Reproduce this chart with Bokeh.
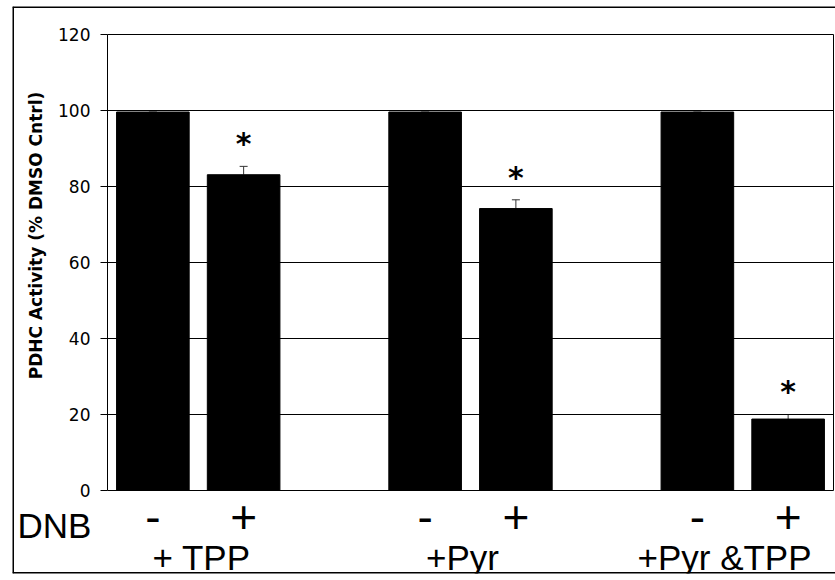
from bokeh.plotting import figure
from bokeh.models import (ColumnDataSource, Whisker, TeeHead, FixedTicker, Label,
                          LinearAxis, Range1d)
from bokeh.core.properties import value
from bokeh.embed import file_html
from bokeh.resources import INLINE

# ---- data ----
groups = ["+ TPP", "+Pyr", "+Pyr &TPP"]
dnb_states = ["-", "+"]
activity = [99.6, 83.1, 99.6, 74.2, 99.6, 18.8]
sem = [0.0, 2.2, 0.0, 2.3, 0.0, 1.2]
significant = [False, True, False, True, False, True]
y_ticks = [0, 20, 40, 60, 80, 100, 120]
row_label = "DNB"
y_title = "PDHC Activity (% DMSO Cntrl)"

# ---- layout (pixels on the page) ----
W, H = 835, 580
BOX_L, BOX_T, BOX_R, BOX_B = 12, 6, 835, 573      # outer frame box
X0_PX, SLOT_PX = 107, 90.75                        # x=0 position, width of one slot
Y0_PX, UNIT_PX = 490, 3.8                          # y=0 position, px per % unit

def px_x(px):
    return (px - X0_PX) / SLOT_PX

def px_y(py):
    return (Y0_PX - py) / UNIT_PX

n_slots = len(groups) * 3 - 1
xs, state_labels = [], []
for gi, g in enumerate(groups):
    for si, s in enumerate(dnb_states):
        xs.append(gi * 3 + si + 0.5)
        state_labels.append(s)

upper = [a + e for a, e in zip(activity, sem)]
src = ColumnDataSource(dict(x=xs, top=activity, upper=upper))

star_x = [x for x, s in zip(xs, significant) if s]
star_y = [u + 6 for u, s in zip(upper, significant) if s]
star_src = ColumnDataSource(dict(x=star_x, y=star_y, t=["*"] * len(star_x)))

xr = Range1d(px_x(BOX_L), px_x(BOX_R))
yr = Range1d(px_y(BOX_B), px_y(BOX_T))
p = figure(width=W, height=H, x_range=xr, y_range=yr,
           x_axis_location=None, y_axis_location=None,
           output_backend="svg", toolbar_location=None,
           min_border_left=BOX_L, min_border_right=W - BOX_R,
           min_border_top=BOX_T, min_border_bottom=H - BOX_B)
p.background_fill_color = "white"
p.border_fill_color = "white"
p.outline_line_color = None
p.grid.visible = False

# outer box: left, top and bottom edges (right edge lies outside the window)
p.segment(x0=[xr.start, xr.start, xr.start], x1=[xr.start, xr.end, xr.end],
          y0=[yr.start, yr.end, yr.start], y1=[yr.end, yr.end, yr.start],
          line_color="black", line_width=3)

# gridlines (plot area only)
grid_y = y_ticks[1:]
p.segment(x0=[0] * len(grid_y), x1=[n_slots] * len(grid_y), y0=grid_y, y1=grid_y,
          line_color="black", line_width=1)
# right edge of plot area
p.segment(x0=[n_slots], x1=[n_slots], y0=[y_ticks[0]], y1=[y_ticks[-1]],
          line_color="black", line_width=1)

p.vbar(x="x", top="top", width=0.8, source=src, fill_color="black", line_color="black")

wh = Whisker(base="x", upper="upper", lower="top", source=src,
             upper_head=TeeHead(size=8, line_color="#333333", line_width=1),
             lower_head=None, line_color="#333333", line_width=1)
p.add_layout(wh)

p.text(x="x", y="y", text="t", source=star_src, text_font=value("DejaVu Sans"),
       text_font_style="bold", text_font_size="30px", text_align="center",
       text_baseline="middle", text_color="black")

# y axis
yax = LinearAxis(fixed_location=0, bounds=(y_ticks[0], y_ticks[-1]),
                 ticker=FixedTicker(ticks=y_ticks))
yax.major_tick_out = 7
yax.major_tick_in = 0
yax.minor_tick_out = 0
yax.minor_tick_in = 0
yax.major_label_standoff = 10
yax.axis_line_color = "black"
yax.major_tick_line_color = "black"
yax.major_label_text_font = "DejaVu Sans"
yax.major_label_text_font_size = "17px"
yax.major_label_text_color = "black"
p.add_layout(yax, "left")

# x axis: DNB -/+
xax = LinearAxis(fixed_location=0, bounds=(0, n_slots), ticker=FixedTicker(ticks=xs))
xax.major_label_overrides = {x: s for x, s in zip(xs, state_labels)}
xax.major_tick_out = 0
xax.major_tick_in = 0
xax.minor_tick_out = 0
xax.minor_tick_in = 0
xax.major_label_standoff = 10
xax.axis_line_color = "black"
xax.major_label_text_font = "Liberation Sans"
xax.major_label_text_font_size = "46px"
xax.major_label_text_color = "black"
p.add_layout(xax, "below")

# y axis title
p.add_layout(Label(x=px_x(35), y=px_y(235), text=y_title, angle=90, angle_units="deg",
                   text_align="center", text_baseline="middle",
                   text_font="DejaVu Sans", text_font_style="bold",
                   text_font_size="17px", text_color="black"))

# DNB row label
p.add_layout(Label(x=px_x(17), y=px_y(525), text=row_label,
                   text_align="left", text_baseline="alphabetic",
                   text_font="Liberation Sans", text_font_size="35px",
                   text_color="black"))

# group labels
group_center_px = [201, 462, 724]
for g, gx in zip(groups, group_center_px):
    p.add_layout(Label(x=px_x(gx), y=px_y(557), text=g,
                       text_align="center", text_baseline="alphabetic",
                       text_font="Liberation Sans", text_font_size="35px",
                       text_color="black"))

open("out.html", "w").write(file_html(p, INLINE))
